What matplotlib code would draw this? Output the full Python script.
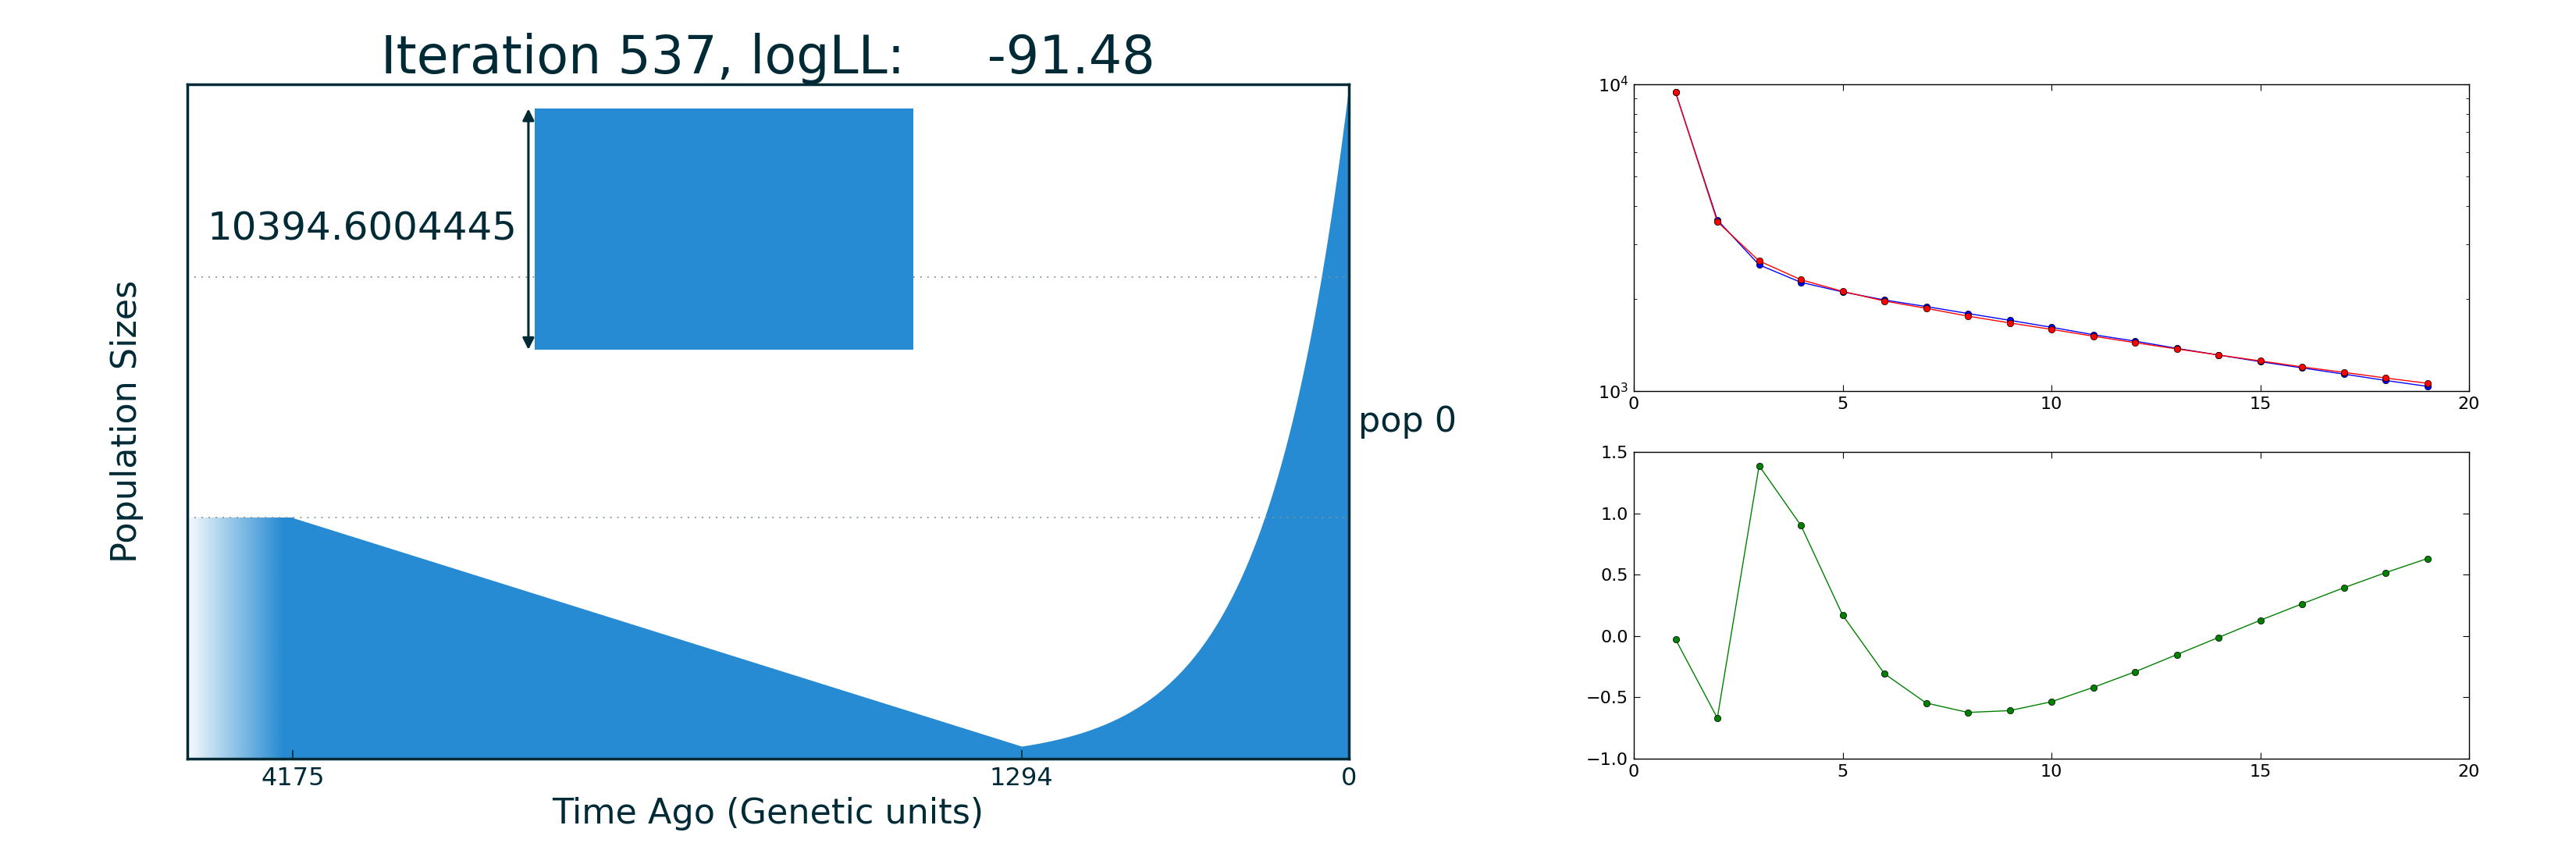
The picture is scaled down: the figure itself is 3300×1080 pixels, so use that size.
import numpy as np
import matplotlib
matplotlib.use("Agg")
import matplotlib.pyplot as plt
from matplotlib.patches import Rectangle

# ---------------- data ----------------
iteration = 537
log_ll = -91.48
pop_name = "pop 0"
# demographic model (time ago in genetic units, population sizes)
t_growth_start = 1294        # end of exponential growth (going back in time)
t_ancestral = 4175           # time of ancestral size
N_present = 29050.0          # size at time 0
N_bottleneck = 539.0         # size at t_growth_start
N_ancestral = 10394.6004445  # ancestral size (scale bar value)
time_ticks = [4175, 1294, 0]
time_tick_labels = ["4175", "1294", "0"]
scale_label = "10394.6004445"

# right panels
x_idx = list(range(1, 20))
blue_vals = [9415, 3614, 2579, 2262, 2105, 1981, 1886, 1790, 1701, 1614,
             1527, 1455, 1378, 1311, 1247, 1190, 1136, 1083, 1036]
red_vals = [9415, 3566, 2656, 2307, 2113, 1966, 1861, 1755, 1668, 1589,
            1510, 1438, 1372, 1311, 1254, 1199, 1151, 1103, 1060]
green_vals = [-0.027, -0.669, 1.388, 0.902, 0.170, -0.307, -0.546, -0.623,
              -0.608, -0.536, -0.419, -0.292, -0.152, -0.012, 0.128, 0.262,
              0.393, 0.516, 0.631]

# ---------------- style ----------------
DARK = "#002b36"
BLUE = "#268bd2"
GRID = "#839496"

fig = plt.figure(figsize=(33, 10.8), dpi=100)

# ---------------- main demography panel ----------------
ax = fig.add_axes([240/3300, 0.1, (1728-240)/3300, 0.8])
x_left = t_ancestral * 1.1

# exponential growth segment
r = np.log(N_present / N_bottleneck) / t_growth_start
t1 = np.linspace(0, t_growth_start, 400)
n1 = N_present * np.exp(-r * t1)
# linear segment
t2 = np.array([t_growth_start, t_ancestral])
n2 = np.array([N_bottleneck, N_ancestral])
tt = np.concatenate([t1, t2])
nn = np.concatenate([n1, n2])
ax.fill_between(tt, 0, nn, color=BLUE, lw=0, zorder=1)

# gradient for ancestral population
alpha = np.clip(np.linspace(0.04, 1.1, 256), 0, 1)
rgba = np.zeros((1, 256, 4))
rgba[..., :3] = matplotlib.colors.to_rgb(BLUE)
rgba[..., 3] = alpha
ax.imshow(rgba, extent=[x_left, t_ancestral, 0, N_ancestral], aspect="auto",
          interpolation="bilinear", zorder=1)

# dotted guide lines
grid_levels = [N_ancestral, 2 * N_ancestral]
for lv in grid_levels:
    ax.axhline(lv, color=GRID, ls=(0, (1, 4)), lw=1.3, zorder=2)

# scale bar
bar_x0, bar_x1 = 3219, 1722
bar_y0 = 17650
ax.add_patch(Rectangle((bar_x1, bar_y0), bar_x0 - bar_x1, N_ancestral,
                       color=BLUE, lw=0, zorder=3))
arrow_x = 3244
ax.annotate("", xy=(arrow_x, bar_y0 + N_ancestral), xytext=(arrow_x, bar_y0),
            arrowprops=dict(arrowstyle="<|-|>", color=DARK, lw=2.2,
                            mutation_scale=22, shrinkA=0, shrinkB=0), zorder=4)
ax.text(3287, bar_y0 + N_ancestral / 2, scale_label, ha="right", va="center",
        fontsize=36, color=DARK)

ax.set_xlim(x_left, 0)
ax.set_ylim(0, 29100)
ax.set_xticks(time_ticks)
ax.set_xticklabels(time_tick_labels)
ax.set_yticks([])
ax.tick_params(axis="x", direction="in", length=8, width=1.2, colors=DARK,
               labelsize=23, pad=7, top=False)
for sp in ax.spines.values():
    sp.set_color(DARK)
    sp.set_linewidth(2.5)
ax.set_xlabel("Time Ago (Genetic units)", fontsize=32, color=DARK, labelpad=6)
ax.set_ylabel("Population Sizes", fontsize=32, color=DARK, labelpad=40)
ax.set_title("Iteration %d, logLL: %10.2f" % (iteration, log_ll), fontsize=48,
             color=DARK, pad=10)
ax.text(1.008, 0.5, pop_name, transform=ax.transAxes, ha="left", va="center",
        fontsize=32, color=DARK)

# ---------------- right panels ----------------
rl = 2093/3300
rw = (3163-2093)/3300
ax1 = fig.add_axes([rl, 1-501/1080, rw, (501-108)/1080])
ax2 = fig.add_axes([rl, 0.1, rw, (972-579)/1080])

mk = dict(marker="o", markersize=6, markeredgecolor="k", markeredgewidth=0.5,
          lw=1.0)
ax1.plot(x_idx, blue_vals, color=(0, 0, 1), **mk)
ax1.plot(x_idx, red_vals, color=(1, 0, 0), **mk)
ax1.set_yscale("log")
ax1.set_ylim(1000, 10000)
ax1.set_xlim(0, 20)

ax2.plot(x_idx, green_vals, color=(0, 0.5, 0), **mk)
ax2.set_xlim(0, 20)
ax2.set_ylim(-1.0, 1.5)
ax2.set_yticks([-1.0, -0.5, 0.0, 0.5, 1.0, 1.5])

for a in (ax1, ax2):
    a.set_xticks([0, 5, 10, 15, 20])
    a.tick_params(which="both", direction="in", top=True, right=True,
                  labelsize=16, colors="k")
    a.tick_params(which="major", length=5.5, width=0.8, pad=5)
    a.tick_params(which="minor", length=3, width=0.6)
    for sp in a.spines.values():
        sp.set_color("k")
        sp.set_linewidth(1.0)

fig.savefig("out.png", dpi=100, facecolor="white")
